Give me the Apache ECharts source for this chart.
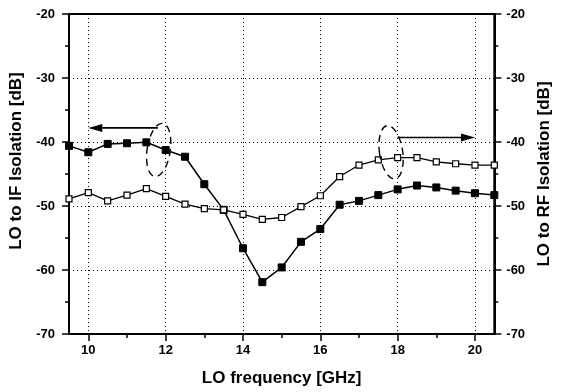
<!DOCTYPE html>
<html>
<head>
<meta charset="utf-8">
<script src="https://cdn.jsdelivr.net/npm/echarts@6/dist/echarts.min.js"></script>
<style>
  html, body { margin: 0; padding: 0; background: #fff; }
  #main { width: 561px; height: 392px; }
</style>
</head>
<body>
<div id="main"></div>
<script>
// LO frequency [GHz]
var freq = [9.5, 10, 10.5, 11, 11.5, 12, 12.5, 13, 13.5, 14, 14.5, 15, 15.5,
            16, 16.5, 17, 17.5, 18, 18.5, 19, 19.5, 20, 20.5];
// LO to IF isolation [dB] (filled squares, left axis)
var ifIso = [-40.6, -41.6, -40.3, -40.2, -40.05, -41.25, -42.3, -46.6, -50.6, -56.6, -61.9, -59.6, -55.6,
             -53.6, -49.8, -49.2, -48.3, -47.4, -46.8, -47.1, -47.6, -48.0, -48.3];
// LO to RF isolation [dB] (open squares, right axis)
var rfIso = [-48.9, -47.9, -49.2, -48.3, -47.3, -48.5, -49.7, -50.4, -50.6, -51.3, -52.1, -51.8, -50.1,
             -48.4, -45.4, -43.6, -42.8, -42.45, -42.45, -43.1, -43.4, -43.6, -43.6];
// tick positions
var xMajor = [10, 12, 14, 16, 18, 20];
var xMinor = [11, 13, 15, 17, 19];
// annotations: arrows [x0, y0, x1, y1] and dashed ellipses [x, y, tilt]
var arrows = [[11.8, -37.8, 10, -37.8], [18, -39.3, 20, -39.3]];
var ellipses = [[11.82, -41.25, -0.15], [17.83, -41.6, 0.15]];

var font = 'Liberation Sans, Arial, sans-serif';

function pairs(xs, ys) {
    var out = [];
    for (var i = 0; i < xs.length; i++) out.push([xs[i], ys[i]]);
    return out;
}

var chart = echarts.init(document.getElementById('main'));

var yCommon = {
    type: 'value',
    min: -70,
    max: -20,
    interval: 10,
    nameLocation: 'middle',
    nameRotate: 90,
    nameGap: 40,
    nameTextStyle: { color: '#000', fontFamily: font, fontWeight: 'bold', fontSize: 17 },
    axisLine: { show: true, lineStyle: { color: '#000', width: 2 } },
    axisTick: { show: true, inside: false, length: 7, lineStyle: { color: '#000', width: 1.5 } },
    minorTick: { show: true, splitNumber: 2, length: 4, lineStyle: { color: '#000', width: 1.5 } },
    axisLabel: { color: '#000', fontFamily: font, fontWeight: 'bold', fontSize: 13 }
};

var option = {
    animation: false,
    backgroundColor: '#fff',
    grid: {
        left: 69, right: 59, top: 14, bottom: 58,
        show: true, borderColor: '#000', borderWidth: 2, backgroundColor: 'transparent'
    },
    xAxis: [{
        type: 'value',
        min: 9.5,
        max: 20.5,
        position: 'bottom',
        name: 'LO frequency [GHz]',
        nameLocation: 'middle',
        nameGap: 36,
        nameTextStyle: { color: '#000', fontFamily: font, fontWeight: 'bold', fontSize: 17 },
        axisLine: { show: true, onZero: false, lineStyle: { color: '#000', width: 2 } },
        axisTick: { show: true, inside: false, length: 7, customValues: xMajor, lineStyle: { color: '#000', width: 1.5 } },
        axisLabel: { customValues: xMajor, margin: 10, color: '#000', fontFamily: font, fontWeight: 'bold', fontSize: 13 },
        splitLine: { show: false }
    }, {
        // minor ticks
        type: 'value',
        min: 9.5,
        max: 20.5,
        position: 'bottom',
        offset: 0,
        axisLine: { show: false, onZero: false },
        axisTick: { show: true, inside: false, length: 4, customValues: xMinor, lineStyle: { color: '#000', width: 1.5 } },
        axisLabel: { show: false },
        splitLine: { show: false }
    }, {
        // vertical dotted grid lines
        type: 'value',
        min: 9.5,
        max: 20.5,
        splitNumber: 5,
        position: 'top',
        axisLine: { show: false, onZero: false },
        axisTick: { show: false },
        axisLabel: { show: false },
        splitLine: { show: true, lineStyle: { color: '#000', type: [1, 3], width: 1 } }
    }],
    yAxis: [
        Object.assign({}, yCommon, {
            position: 'left',
            name: 'LO to IF Isolation [dB]',
            nameTextStyle: Object.assign({}, yCommon.nameTextStyle, { padding: [0, 0, 0, 26] }),
            axisLabel: Object.assign({}, yCommon.axisLabel, { margin: 14 }),
            splitLine: { show: true, lineStyle: { color: '#000', type: [1, 3], width: 1 } }
        }),
        Object.assign({}, yCommon, {
            position: 'right',
            name: 'LO to RF Isolation [dB]',
            axisLabel: Object.assign({}, yCommon.axisLabel, { margin: 12 }),
            splitLine: { show: false }
        })
    ],
    series: [{
        name: 'LO to IF',
        type: 'line',
        xAxisIndex: 0,
        yAxisIndex: 0,
        data: pairs(freq, ifIso),
        symbol: 'rect',
        symbolSize: 7,
        showAllSymbol: true,
        lineStyle: { color: '#000', width: 1.5 },
        itemStyle: { color: '#000', borderColor: '#000', borderWidth: 1 },
        z: 3
    }, {
        name: 'LO to RF',
        type: 'line',
        xAxisIndex: 0,
        yAxisIndex: 1,
        data: pairs(freq, rfIso),
        symbol: 'rect',
        symbolSize: 6,
        showAllSymbol: true,
        lineStyle: { color: '#000', width: 1.3 },
        itemStyle: { color: '#fff', borderColor: '#000', borderWidth: 1.2 },
        z: 3
    }, {
        name: 'arrows',
        type: 'custom',
        xAxisIndex: 0,
        yAxisIndex: 0,
        silent: true,
        data: arrows,
        renderItem: function (params, api) {
            var p0 = api.coord([api.value(0), api.value(1)]);
            var p1 = api.coord([api.value(2), api.value(3)]);
            var dir = p1[0] > p0[0] ? 1 : -1;
            var headLen = 14, headW = 4;
            var baseX = p1[0] - dir * headLen;
            return {
                type: 'group',
                children: [{
                    type: 'line',
                    shape: { x1: p0[0], y1: p0[1], x2: baseX, y2: p1[1] },
                    style: { stroke: '#000', lineWidth: 1.6 }
                }, {
                    type: 'polygon',
                    shape: { points: [[p1[0], p1[1]], [baseX, p1[1] - headW], [baseX, p1[1] + headW]] },
                    style: { fill: '#000' }
                }]
            };
        },
        z: 4
    }, {
        name: 'ellipses',
        type: 'custom',
        xAxisIndex: 0,
        yAxisIndex: 0,
        silent: true,
        data: ellipses,
        renderItem: function (params, api) {
            var c = api.coord([api.value(0), api.value(1)]);
            var s = api.size([0.3, 4.2]);
            return {
                type: 'ellipse',
                x: c[0],
                y: c[1],
                rotation: api.value(2),
                shape: { cx: 0, cy: 0, rx: s[0], ry: s[1] },
                style: { fill: null, stroke: '#000', lineWidth: 1.4, lineDash: [7, 5] }
            };
        },
        z: 4
    }]
};

chart.setOption(option);
</script>
</body>
</html>
